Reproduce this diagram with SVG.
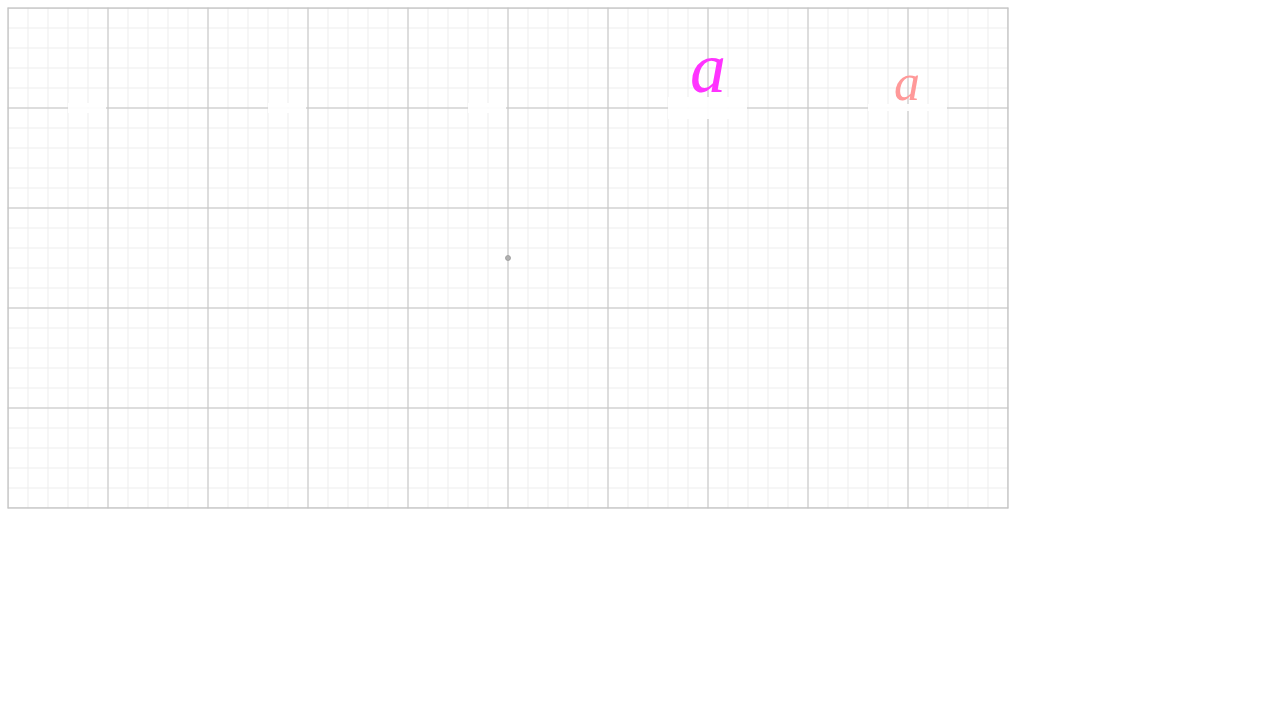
<svg xmlns="http://www.w3.org/2000/svg" width="1280" height="720" viewBox="0 0 1280 720">
<defs>
<style>
.minor{stroke:#ededed;stroke-width:1;fill:none}
.major{stroke:#c4c4c4;stroke-width:1;fill:none}
.border{stroke:#c4c4c4;stroke-width:1;fill:none}
.mask{fill:#ffffff;fill-opacity:0.92}
.lbl{font-family:"Liberation Serif","Times New Roman",serif;font-style:italic;text-anchor:middle}
</style>
<pattern id="minorGrid" x="-2" y="-2" width="20" height="20" patternUnits="userSpaceOnUse">
<path d="M10 0 V20 M0 10 H20" class="minor"/>
</pattern>
<pattern id="majorGrid" x="-42" y="-42" width="100" height="100" patternUnits="userSpaceOnUse">
<path d="M50 0 V100 M0 50 H100" class="major"/>
</pattern>
</defs>
<rect width="1280" height="720" fill="#ffffff"/>
<g id="grid">
<rect x="7.5" y="7.5" width="1001" height="501" fill="url(#minorGrid)"/>
<rect x="7.5" y="7.5" width="1001" height="501" fill="url(#majorGrid)"/>
<rect x="8" y="8" width="1000" height="500" class="border"/>
</g>
<g id="node1"><rect x="68" y="103" width="38" height="10" class="mask"/></g>
<g id="node2"><rect x="268" y="103" width="38" height="10" class="mask"/></g>
<g id="node3"><rect x="468" y="103" width="38" height="10" class="mask"/></g>
<g id="node4">
<rect x="668" y="97" width="79" height="22" class="mask"/>
<text x="708" y="92" class="lbl" font-size="72" fill="#ff33ff">a</text>
</g>
<g id="node5">
<rect x="868" y="104" width="79" height="7" class="mask"/>
<text x="907" y="100" class="lbl" font-size="52" fill="#ff9999">a</text>
</g>
<g id="connectors"></g>
<g id="center"><circle cx="508" cy="258" r="2.5" fill="#b0b0b0" stroke="#999999" stroke-width="0.8"/></g>
</svg>
